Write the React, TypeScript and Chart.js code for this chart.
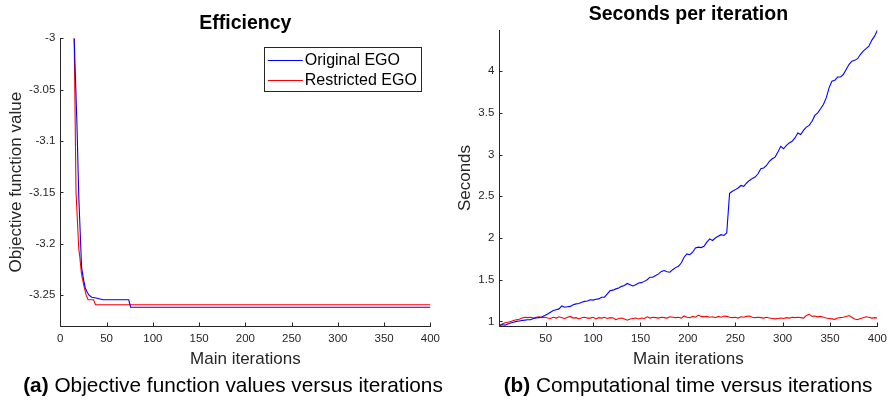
import React, { useEffect, useRef } from 'react';
import { Chart, registerables } from 'chart.js';

Chart.register(...registerables);

const FONT = '"Liberation Sans", Arial, Helvetica, sans-serif';
const AXIS_COLOR = '#262626';

// ---------- Panel (a): Efficiency ----------
const objXTicks = [0, 50, 100, 150, 200, 250, 300, 350, 400];
const objYTicks = [-3.25, -3.2, -3.15, -3.1, -3.05, -3];
const originalIters = [15, 18, 19, 20, 22, 23, 25, 27, 29, 31, 34, 40, 46, 74, 76, 400];
const originalObjective = [-3.0, -3.084, -3.12, -3.155, -3.2, -3.223, -3.234, -3.243, -3.247, -3.25, -3.252, -3.253, -3.2545, -3.2545, -3.2617, -3.2617];
const restrictedIters = [15, 17, 20, 21, 23, 26, 28, 30, 36, 38, 400];
const restrictedObjective = [-3.0, -3.15, -3.205, -3.212, -3.23, -3.243, -3.25, -3.2545, -3.2545, -3.2593, -3.2593];

// ---------- Panel (b): Seconds per iteration ----------
const timeXTicks = [50, 100, 150, 200, 250, 300, 350, 400];
const timeYTicks = [1, 1.5, 2, 2.5, 3, 3.5, 4];
// sampled every 3rd iteration: 1, 4, 7, ..., 400
const timeIters = Array.from({ length: 134 }, (_, i) => 1 + 3 * i);
const originalSeconds = [
  0.95, 0.96, 0.955, 0.97, 0.98, 0.99, 1.0, 1.005, 1.01, 1.015,
  1.02, 1.02, 1.035, 1.04, 1.045, 1.055, 1.07, 1.09, 1.11, 1.13,
  1.14, 1.15, 1.185, 1.17, 1.175, 1.18, 1.2, 1.21, 1.215, 1.23,
  1.24, 1.245, 1.26, 1.255, 1.265, 1.27, 1.29, 1.29, 1.33, 1.37,
  1.375, 1.39, 1.4, 1.42, 1.43, 1.455, 1.44, 1.425, 1.44, 1.46,
  1.465, 1.48, 1.5, 1.53, 1.53, 1.55, 1.57, 1.6, 1.61, 1.595,
  1.59, 1.62, 1.645, 1.66, 1.7, 1.77, 1.81, 1.8, 1.83, 1.88,
  1.89, 1.885, 1.9, 1.95, 1.99, 1.97, 2.0, 2.02, 2.04, 2.03,
  2.06, 2.535, 2.56, 2.58, 2.6, 2.63, 2.62, 2.66, 2.69, 2.715,
  2.73, 2.77, 2.83, 2.84, 2.87, 2.92, 2.95, 2.97, 3.03, 3.1,
  3.07, 3.11, 3.14, 3.16, 3.2, 3.26, 3.24, 3.29, 3.33, 3.35,
  3.4, 3.47, 3.5, 3.55, 3.6, 3.68, 3.8, 3.88, 3.89, 3.93,
  3.93, 3.96, 4.02, 4.08, 4.12, 4.13, 4.15, 4.2, 4.24, 4.27,
  4.3, 4.37, 4.42, 4.49,
];
const restrictedSeconds = [
  0.95, 0.97, 0.985, 0.99, 1.0, 1.01, 1.02, 1.025, 1.04, 1.05,
  1.045, 1.05, 1.04, 1.05, 1.055, 1.045, 1.05, 1.04, 1.035, 1.05,
  1.04, 1.055, 1.045, 1.035, 1.05, 1.06, 1.04, 1.045, 1.03, 1.045,
  1.05, 1.04, 1.04, 1.05, 1.03, 1.045, 1.04, 1.05, 1.035, 1.045,
  1.04, 1.02, 1.035, 1.04, 1.03, 1.015, 1.03, 1.035, 1.04, 1.03,
  1.04, 1.035, 1.055, 1.04, 1.05, 1.045, 1.04, 1.05, 1.045, 1.04,
  1.055, 1.05, 1.045, 1.05, 1.04, 1.065, 1.05, 1.045, 1.06, 1.05,
  1.075, 1.06, 1.055, 1.06, 1.05, 1.055, 1.045, 1.06, 1.05, 1.065,
  1.06, 1.05, 1.045, 1.05, 1.04, 1.055, 1.05, 1.06, 1.065, 1.05,
  1.045, 1.05, 1.045, 1.04, 1.05, 1.04, 1.035, 1.03, 1.035, 1.04,
  1.035, 1.045, 1.04, 1.05, 1.045, 1.05, 1.045, 1.04, 1.07, 1.085,
  1.06, 1.065, 1.055, 1.06, 1.05, 1.04, 1.035, 1.03, 1.025, 1.04,
  1.045, 1.05, 1.06, 1.07, 1.05, 1.03, 1.02, 1.035, 1.045, 1.055,
  1.05, 1.04, 1.045, 1.04,
];

const fmt = (v: number | string) => String(Math.round(Number(v) * 100) / 100);

const inwardTicks = {
  id: 'inwardTicks',
  afterDatasetsDraw(chart: any) {
    const { ctx, chartArea, scales } = chart;
    const len = 3.5;
    ctx.save();
    ctx.strokeStyle = AXIS_COLOR;
    ctx.lineWidth = 1;
    ctx.beginPath();
    scales.x.ticks.forEach((t: any) => {
      const px = Math.round(scales.x.getPixelForValue(t.value)) + 0.5;
      const b = Math.round(chartArea.bottom);
      ctx.moveTo(px, b);
      ctx.lineTo(px, b - len);
    });
    scales.y.ticks.forEach((t: any) => {
      const py = Math.round(scales.y.getPixelForValue(t.value)) + 0.5;
      const l = Math.round(chartArea.left);
      ctx.moveTo(l, py);
      ctx.lineTo(l + len, py);
    });
    ctx.stroke();
    ctx.restore();
  },
};

const boxLegend = {
  id: 'boxLegend',
  afterDatasetsDraw(chart: any, _args: any, opts: any) {
    if (!opts || !opts.show) return;
    const { ctx, chartArea } = chart;
    ctx.save();
    ctx.font = `16px ${FONT}`;
    const ds = chart.data.datasets;
    const maxW = Math.max(...ds.map((d: any) => ctx.measureText(d.label).width));
    const w = Math.round(3.3 + 35 + 2 + maxW + 5);
    const h = 44;
    const x0 = Math.round(chartArea.right - 9.4 - w) + 0.5;
    const y0 = Math.round(chartArea.top + 9) + 0.5;
    ctx.fillStyle = '#ffffff';
    ctx.fillRect(x0, y0, w, h);
    ctx.strokeStyle = AXIS_COLOR;
    ctx.lineWidth = 1;
    ctx.strokeRect(x0, y0, w, h);
    ds.forEach((d: any, i: number) => {
      const cy = Math.round(y0 + 12.4 + i * 20.3) + 0.5;
      ctx.strokeStyle = d.borderColor;
      ctx.beginPath();
      ctx.moveTo(x0 + 3.3, cy);
      ctx.lineTo(x0 + 38.3, cy);
      ctx.stroke();
      ctx.fillStyle = '#000000';
      ctx.textBaseline = 'middle';
      ctx.textAlign = 'left';
      ctx.fillText(d.label, x0 + 40.3, cy + 0.5);
    });
    ctx.restore();
  },
};

function axisX(ticks: number[], min: number, max: number) {
  return {
    type: 'linear',
    min,
    max,
    afterBuildTicks: (s: any) => {
      s.ticks = ticks.map((v) => ({ value: v }));
    },
    afterFit: (s: any) => {
      s.height = 75;
    },
    ticks: {
      autoSkip: false,
      maxRotation: 0,
      padding: 6,
      color: AXIS_COLOR,
      font: { family: FONT, size: 11.5 },
      callback: fmt,
    },
    grid: { display: false, drawTicks: false },
    border: { display: true, color: AXIS_COLOR, width: 1 },
    title: {
      display: true,
      text: 'Main iterations',
      color: AXIS_COLOR,
      font: { family: FONT, size: 17 },
      padding: { top: 0, bottom: 31.8 },
    },
  };
}

function axisY(ticks: number[], min: number, max: number, label: string, width: number, titlePad: number) {
  return {
    type: 'linear',
    min,
    max,
    afterBuildTicks: (s: any) => {
      s.ticks = ticks.map((v) => ({ value: v }));
    },
    afterFit: (s: any) => {
      s.width = width;
    },
    ticks: {
      autoSkip: false,
      padding: 5,
      color: AXIS_COLOR,
      font: { family: FONT, size: 11.5 },
      callback: fmt,
    },
    grid: { display: false, drawTicks: false },
    border: { display: true, color: AXIS_COLOR, width: 1 },
    title: {
      display: true,
      text: label,
      color: AXIS_COLOR,
      font: { family: FONT, size: 17 },
      padding: { top: titlePad, bottom: 0 },
    },
  };
}

function lineDataset(label: string, xs: number[], ys: number[], color: string) {
  return {
    label,
    data: xs.map((x, i) => ({ x, y: ys[i] })),
    borderColor: color,
    backgroundColor: color,
    borderWidth: 1.1,
    pointRadius: 0,
    tension: 0,
    fill: false,
  };
}

function useChart(ref: React.RefObject<HTMLCanvasElement | null>, build: () => any) {
  useEffect(() => {
    if (!ref.current) return;
    const chart = new Chart(ref.current, build());
    return () => chart.destroy();
  }, []);
}

export default function App() {
  const leftRef = useRef<HTMLCanvasElement>(null);
  const rightRef = useRef<HTMLCanvasElement>(null);

  useChart(leftRef, () => ({
    type: 'line',
    data: {
      datasets: [
        lineDataset('Original EGO', originalIters, originalObjective, '#0000ff'),
        lineDataset('Restricted EGO', restrictedIters, restrictedObjective, '#ff0000'),
      ],
    },
    options: {
      responsive: false,
      animation: false,
      events: [],
      layout: { padding: { left: 0, right: 13.3, top: 0, bottom: 0 } },
      plugins: {
        legend: { display: false },
        tooltip: { enabled: false },
        title: {
          display: true,
          fullSize: false,
          text: 'Efficiency',
          color: '#000000',
          font: { family: FONT, size: 19.5, weight: 'bold' },
          padding: { top: 11.5, bottom: 3.4 },
        },
        boxLegend: { show: true },
      },
      scales: {
        x: axisX(objXTicks, 0, 400),
        y: axisY(objYTicks, -3.28, -3, 'Objective function value', 60.3, 6.3),
      },
    },
    plugins: [inwardTicks, boxLegend],
  }));

  useChart(rightRef, () => ({
    type: 'line',
    data: {
      datasets: [
        lineDataset('Original EGO', timeIters, originalSeconds, '#0000ff'),
        lineDataset('Restricted EGO', timeIters, restrictedSeconds, '#ff0000'),
      ],
    },
    options: {
      responsive: false,
      animation: false,
      events: [],
      layout: { padding: { left: 0, right: 12.3, top: 0, bottom: 0 } },
      plugins: {
        legend: { display: false },
        tooltip: { enabled: false },
        title: {
          display: true,
          fullSize: false,
          text: 'Seconds per iteration',
          color: '#000000',
          font: { family: FONT, size: 19.5, weight: 'bold' },
          padding: { top: 3.3, bottom: 3.3 },
        },
        boxLegend: { show: false },
      },
      scales: {
        x: axisX(timeXTicks, 1, 400),
        y: axisY(timeYTicks, 0.945, 4.494, 'Seconds', 53.3, 8.8),
      },
    },
    plugins: [inwardTicks, boxLegend],
  }));

  const captionStyle: React.CSSProperties = {
    position: 'absolute',
    top: 373,
    fontFamily: FONT,
    fontSize: 20.8,
    lineHeight: '24px',
    color: '#000',
    textAlign: 'center',
    whiteSpace: 'nowrap',
  };

  return (
    <div style={{ position: 'absolute', left: 0, top: 0, width: 893, height: 401, background: '#fff', overflow: 'hidden' }}>
      <canvas ref={leftRef} width={446} height={401} style={{ position: 'absolute', left: 0, top: 0, width: 446, height: 401 }} />
      <canvas ref={rightRef} width={447} height={401} style={{ position: 'absolute', left: 446, top: 0, width: 447, height: 401 }} />
      <div style={{ ...captionStyle, left: 0, width: 466 }}>
        <b>(a)</b> Objective function values versus iterations
      </div>
      <div style={{ ...captionStyle, left: 465, width: 446 }}>
        <b>(b)</b> Computational time versus iterations
      </div>
    </div>
  );
}
